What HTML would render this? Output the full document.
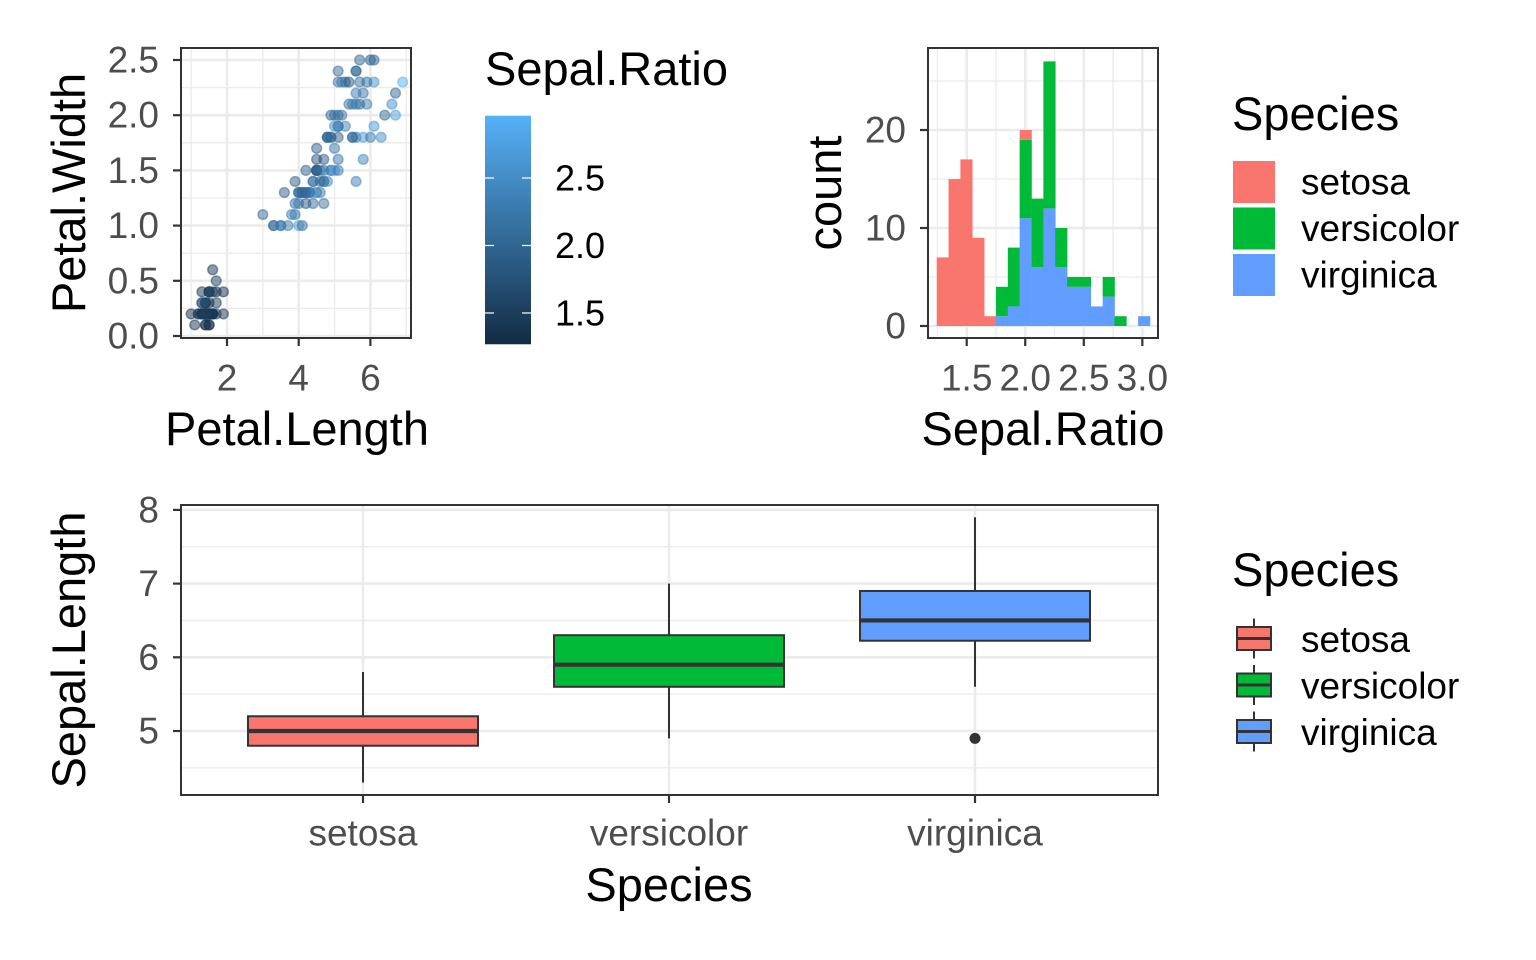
<!DOCTYPE html>
<html><head><meta charset="utf-8"><style>
html,body{margin:0;padding:0;background:#fff;}
svg{display:block;font-family:"Liberation Sans",sans-serif;}
</style></head><body>
<svg id="c" width="1536" height="960" viewBox="0 0 1536 960" xmlns="http://www.w3.org/2000/svg">
<defs><linearGradient id="cbg" x1="0" y1="1" x2="0" y2="0"><stop offset="0" stop-color="#132B43"/><stop offset="1" stop-color="#56B1F7"/></linearGradient></defs>
</svg>
<script>
// ---- data ----
const irisSL=[5.1,4.9,4.7,4.6,5.0,5.4,4.6,5.0,4.4,4.9,5.4,4.8,4.8,4.3,5.8,5.7,5.4,5.1,5.7,5.1,5.4,5.1,4.6,5.1,4.8,5.0,5.0,5.2,5.2,4.7,4.8,5.4,5.2,5.5,4.9,5.0,5.5,4.9,4.4,5.1,5.0,4.5,4.4,5.0,5.1,4.8,5.1,4.6,5.3,5.0,
7.0,6.4,6.9,5.5,6.5,5.7,6.3,4.9,6.6,5.2,5.0,5.9,6.0,6.1,5.6,6.7,5.6,5.8,6.2,5.6,5.9,6.1,6.3,6.1,6.4,6.6,6.8,6.7,6.0,5.7,5.5,5.5,5.8,6.0,5.4,6.0,6.7,6.3,5.6,5.5,5.5,6.1,5.8,5.0,5.6,5.7,5.7,6.2,5.1,5.7,
6.3,5.8,7.1,6.3,6.5,7.6,4.9,7.3,6.7,7.2,6.5,6.4,6.8,5.7,5.8,6.4,6.5,7.7,7.7,6.0,6.9,5.6,7.7,6.3,6.7,7.2,6.2,6.1,6.4,7.2,7.4,7.9,6.4,6.3,6.1,7.7,6.3,6.4,6.0,6.9,6.7,6.9,5.8,6.8,6.7,6.7,6.3,6.5,6.2,5.9];
const irisSW=[3.5,3.0,3.2,3.1,3.6,3.9,3.4,3.4,2.9,3.1,3.7,3.4,3.0,3.0,4.0,4.4,3.9,3.5,3.8,3.8,3.4,3.7,3.6,3.3,3.4,3.0,3.4,3.5,3.4,3.2,3.1,3.4,4.1,4.2,3.1,3.2,3.5,3.6,3.0,3.4,3.5,2.3,3.2,3.5,3.8,3.0,3.8,3.2,3.7,3.3,
3.2,3.2,3.1,2.3,2.8,2.8,3.3,2.4,2.9,2.7,2.0,3.0,2.2,2.9,2.9,3.1,3.0,2.7,2.2,2.5,3.2,2.8,2.5,2.8,2.9,3.0,2.8,3.0,2.9,2.6,2.4,2.4,2.7,2.7,3.0,3.4,3.1,2.3,3.0,2.5,2.6,3.0,2.6,2.3,2.7,3.0,2.9,2.9,2.5,2.8,
3.3,2.7,3.0,2.9,3.0,3.0,2.5,2.9,2.5,3.6,3.2,2.7,3.0,2.5,2.8,3.2,3.0,3.8,2.6,2.2,3.2,2.8,2.8,2.7,3.3,3.2,2.8,3.0,2.8,3.0,2.8,3.8,2.8,2.8,2.6,3.0,3.4,3.1,3.0,3.1,3.1,3.1,2.7,3.2,3.3,3.0,2.5,3.0,3.4,3.0];
const irisPL=[1.4,1.4,1.3,1.5,1.4,1.7,1.4,1.5,1.4,1.5,1.5,1.6,1.4,1.1,1.2,1.5,1.3,1.4,1.7,1.5,1.7,1.5,1.0,1.7,1.9,1.6,1.6,1.5,1.4,1.6,1.6,1.5,1.5,1.4,1.5,1.2,1.3,1.4,1.3,1.5,1.3,1.3,1.3,1.6,1.9,1.4,1.6,1.4,1.5,1.4,
4.7,4.5,4.9,4.0,4.6,4.5,4.7,3.3,4.6,3.9,3.5,4.2,4.0,4.7,3.6,4.4,4.5,4.1,4.5,3.9,4.8,4.0,4.9,4.7,4.3,4.4,4.8,5.0,4.5,3.5,3.8,3.7,3.9,5.1,4.5,4.5,4.7,4.4,4.1,4.0,4.4,4.6,4.0,3.3,4.2,4.2,4.2,4.3,3.0,4.1,
6.0,5.1,5.9,5.6,5.8,6.6,4.5,6.3,5.8,6.1,5.1,5.3,5.5,5.0,5.1,5.3,5.5,6.7,6.9,5.0,5.7,4.9,6.7,4.9,5.7,6.0,4.8,4.9,5.6,5.8,6.1,6.4,5.6,5.1,5.6,6.1,5.6,5.5,4.8,5.4,5.6,5.1,5.1,5.9,5.7,5.2,5.0,5.2,5.4,5.1];
const irisPW=[0.2,0.2,0.2,0.2,0.2,0.4,0.3,0.2,0.2,0.1,0.2,0.2,0.1,0.1,0.2,0.4,0.4,0.3,0.3,0.3,0.2,0.4,0.2,0.5,0.2,0.2,0.4,0.2,0.2,0.2,0.2,0.4,0.1,0.2,0.2,0.2,0.2,0.1,0.2,0.2,0.3,0.3,0.2,0.6,0.4,0.3,0.2,0.2,0.2,0.2,
1.4,1.5,1.5,1.3,1.5,1.3,1.6,1.0,1.3,1.4,1.0,1.5,1.0,1.4,1.3,1.4,1.5,1.0,1.5,1.1,1.8,1.3,1.5,1.2,1.3,1.4,1.4,1.7,1.5,1.0,1.1,1.0,1.2,1.6,1.5,1.6,1.5,1.3,1.3,1.3,1.2,1.4,1.2,1.0,1.3,1.2,1.3,1.3,1.1,1.3,
2.5,1.9,2.1,1.8,2.2,2.1,1.7,1.8,1.8,2.5,2.0,1.9,2.1,2.0,2.4,2.3,1.8,2.2,2.3,1.5,2.3,2.0,2.0,1.8,2.1,1.8,1.8,1.8,2.1,1.6,1.9,2.0,2.2,1.5,1.4,2.3,2.4,1.8,1.8,2.1,2.4,2.3,1.9,2.3,2.5,2.3,1.9,2.0,2.3,1.8];
const species=["setosa","versicolor","virginica"];
const speciesColors=["#F8766D","#00BA38","#619CFF"];
const histBinStart=[1.244,1.345,1.446,1.548,1.649,1.750,1.851,1.952,2.054,2.155,2.256,2.357,2.458,2.560,2.661,2.762,2.863,2.964];
const histSetosa=[7,15,17,9,1,0,0,1,0,0,0,0,0,0,0,0,0,0];
const histVersicolor=[0,0,0,0,0,3,6,8,7,15,4,1,1,0,2,1,0,0];
const histVirginica=[0,0,0,0,0,1,2,11,6,12,6,4,4,2,3,0,0,1];
const histBinWidth=0.1012;
const boxMin=[4.3,4.9,5.6],boxQ1=[4.8,5.6,6.225],boxMed=[5.0,5.9,6.5],boxQ3=[5.2,6.3,6.9],boxMax=[5.8,7.0,7.9];
const boxOutliers=[[],[],[4.9]];
const scatterXTicks=[2,4,6],scatterYTicks=[0,0.5,1,1.5,2,2.5];
const histXTicks=[1.5,2,2.5,3],histYTicks=[0,10,20];
const boxYTicks=[5,6,7,8];
const cbTicks=[1.5,2.0,2.5];

// ---- helpers ----
const svg=document.getElementById('c');const NS="http://www.w3.org/2000/svg";
function el(tag,attrs,parent){const e=document.createElementNS(NS,tag);for(const k in attrs)e.setAttribute(k,attrs[k]);(parent||svg).appendChild(e);return e;}
function txt(s,attrs){const e=el('text',attrs);e.textContent=s;return e;}
const GRID="#EBEBEB",AX="#333333",TK="#4D4D4D";
function fmt(v,d){return v.toFixed(d);}

// ---- scatter ----
const sx=v=>227+(v-2)*35.85, sy=v=>336-v*110.4;
const SP={x0:181,x1:411,y0:48,y1:338};
[1,3,5,7].forEach(v=>{const l=el('line',{x1:sx(v),x2:sx(v),y1:SP.y0,y2:SP.y1,stroke:GRID,'stroke-width':1.3});});
[0.25,0.75,1.25,1.75,2.25].forEach(v=>{const l=el('line',{x1:SP.x0,x2:SP.x1,y1:sy(v),y2:sy(v),stroke:GRID,'stroke-width':1.3});});
scatterXTicks.forEach(v=>{const l=el('line',{x1:sx(v),x2:sx(v),y1:SP.y0,y2:SP.y1,stroke:GRID,'stroke-width':2.6});});
scatterYTicks.forEach(v=>{const l=el('line',{x1:SP.x0,x2:SP.x1,y1:sy(v),y2:sy(v),stroke:GRID,'stroke-width':2.6});});
const ratios=irisSL.map((s,i)=>s/irisSW[i]);
const rmin=Math.min(...ratios),rmax=Math.max(...ratios);
function ratioColor(r){const t=(r-rmin)/(rmax-rmin);const a=[0x13,0x2B,0x43],b=[0x56,0xB1,0xF7];return 'rgb('+a.map((c,i)=>Math.round(c+(b[i]-c)*t)).join(',')+')';}
irisPL.forEach((pl,i)=>{const c=ratioColor(ratios[i]);const p=el('circle',{cx:sx(pl),cy:sy(irisPW[i]),r:4.9,fill:c,'fill-opacity':0.5,stroke:c,'stroke-opacity':0.5,'stroke-width':1.4});
});
{const b=el('rect',{x:SP.x0,y:SP.y0,width:SP.x1-SP.x0,height:SP.y1-SP.y0,fill:'none',stroke:AX,'stroke-width':2});}
scatterXTicks.forEach(v=>{el('line',{x1:sx(v),x2:sx(v),y1:SP.y1,y2:SP.y1+8,stroke:AX,'stroke-width':2.2});const t=txt(String(v),{x:sx(v),y:378,'text-anchor':'middle','dominant-baseline':'central','font-size':37,fill:TK});});
scatterYTicks.forEach(v=>{el('line',{x1:SP.x0-8,x2:SP.x0,y1:sy(v),y2:sy(v),stroke:AX,'stroke-width':2.2});const t=txt(fmt(v,1),{x:159,y:sy(v),'text-anchor':'end','dominant-baseline':'central','font-size':37,fill:TK});});
{const t=txt('Petal.Length',{x:297,y:445,'text-anchor':'middle','font-size':47,fill:'#000'});}
{const t=txt('Petal.Width',{x:0,y:0,'text-anchor':'middle','font-size':47,fill:'#000',transform:'translate(85,193) rotate(-90)'});}

// ---- colorbar ----
const cby=v=>178-(v-2.5)*135;
{const t=txt('Sepal.Ratio',{x:485,y:85,'font-size':47,fill:'#000'});}
{const r=el('rect',{x:485,y:cby(rmax),width:46,height:cby(rmin)-cby(rmax),fill:'url(#cbg)'});}
cbTicks.forEach(v=>{el('line',{x1:485,x2:494,y1:cby(v),y2:cby(v),stroke:'#fff','stroke-width':1.2});el('line',{x1:522,x2:531,y1:cby(v),y2:cby(v),stroke:'#fff','stroke-width':1.2});
const t=txt(fmt(v,1),{x:555,y:cby(v),'dominant-baseline':'central','font-size':36,fill:'#000'});});

// ---- histogram ----
const hx=v=>966.7+(v-1.5)*117.1, hy=c=>326-c*9.8;
const HP={x0:928,x1:1158,y0:48,y1:338};
[1.25,1.75,2.25,2.75].forEach(v=>{const l=el('line',{x1:hx(v),x2:hx(v),y1:HP.y0,y2:HP.y1,stroke:GRID,'stroke-width':1.3});});
[5,15,25].forEach(v=>{const l=el('line',{x1:HP.x0,x2:HP.x1,y1:hy(v),y2:hy(v),stroke:GRID,'stroke-width':1.3});});
histXTicks.forEach(v=>{const l=el('line',{x1:hx(v),x2:hx(v),y1:HP.y0,y2:HP.y1,stroke:GRID,'stroke-width':2.6});});
histYTicks.forEach(v=>{const l=el('line',{x1:HP.x0,x2:HP.x1,y1:hy(v),y2:hy(v),stroke:GRID,'stroke-width':2.6});});
histBinStart.forEach((b,i)=>{const x=hx(b),w=hx(b+histBinWidth)-x;
 const stack=[[histVirginica[i],2],[histVersicolor[i],1],[histSetosa[i],0]];let base=0;
 stack.forEach(([c,s])=>{if(c>0){const r=el('rect',{x:x,y:hy(base+c),width:w+0.3,height:hy(base)-hy(base+c),fill:speciesColors[s]});base+=c;}});});
{const b=el('rect',{x:HP.x0,y:HP.y0,width:HP.x1-HP.x0,height:HP.y1-HP.y0,fill:'none',stroke:AX,'stroke-width':2});}
histXTicks.forEach(v=>{el('line',{x1:hx(v),x2:hx(v),y1:HP.y1,y2:HP.y1+8,stroke:AX,'stroke-width':2.2});const t=txt(fmt(v,1),{x:hx(v),y:378,'text-anchor':'middle','dominant-baseline':'central','font-size':37,fill:TK});});
histYTicks.forEach(v=>{el('line',{x1:HP.x0-8,x2:HP.x0,y1:hy(v),y2:hy(v),stroke:AX,'stroke-width':2.2});const t=txt(String(v),{x:906,y:hy(v),'text-anchor':'end','dominant-baseline':'central','font-size':37,fill:TK});});
{const t=txt('Sepal.Ratio',{x:1043,y:445,'text-anchor':'middle','font-size':47,fill:'#000'});}
{const t=txt('count',{x:0,y:0,'text-anchor':'middle','font-size':47,fill:'#000',transform:'translate(841,193) rotate(-90)'});}
// hist legend
{const t=txt('Species',{x:1232,y:130,'font-size':47,fill:'#000'});}
species.forEach((s,i)=>{const y=161+i*46.5;const r=el('rect',{x:1233,y:y,width:42,height:42,fill:speciesColors[i]});
const t=txt(s,{x:1301,y:y+21,'dominant-baseline':'central','font-size':37,fill:'#000'});});

// ---- boxplot ----
const by=v=>731-(v-5)*73.7, bx=i=>363+i*306;
const BP={x0:181,x1:1158,y0:505,y1:795};
[4.5,5.5,6.5,7.5].forEach(v=>{const l=el('line',{x1:BP.x0,x2:BP.x1,y1:by(v),y2:by(v),stroke:GRID,'stroke-width':1.3});});
boxYTicks.forEach(v=>{const l=el('line',{x1:BP.x0,x2:BP.x1,y1:by(v),y2:by(v),stroke:GRID,'stroke-width':2.6});});
species.forEach((s,i)=>{const l=el('line',{x1:bx(i),x2:bx(i),y1:BP.y0,y2:BP.y1,stroke:GRID,'stroke-width':2.6});});
species.forEach((s,i)=>{const cx=bx(i),hw=115;
 const w1=el('line',{x1:cx,x2:cx,y1:by(boxQ3[i]),y2:by(boxMax[i]),stroke:AX,'stroke-width':2});
 const w2=el('line',{x1:cx,x2:cx,y1:by(boxQ1[i]),y2:by(boxMin[i]),stroke:AX,'stroke-width':2});
 const r=el('rect',{x:cx-hw,y:by(boxQ3[i]),width:hw*2,height:by(boxQ1[i])-by(boxQ3[i]),fill:speciesColors[i],stroke:AX,'stroke-width':2});
 const m=el('line',{x1:cx-hw,x2:cx+hw,y1:by(boxMed[i]),y2:by(boxMed[i]),stroke:AX,'stroke-width':4.2});
 boxOutliers[i].forEach(o=>{const c=el('circle',{cx:cx,cy:by(o),r:5.5,fill:AX});});});
{const b=el('rect',{x:BP.x0,y:BP.y0,width:BP.x1-BP.x0,height:BP.y1-BP.y0,fill:'none',stroke:AX,'stroke-width':2});}
boxYTicks.forEach(v=>{el('line',{x1:BP.x0-8,x2:BP.x0,y1:by(v),y2:by(v),stroke:AX,'stroke-width':2.2});const t=txt(String(v),{x:159,y:by(v),'text-anchor':'end','dominant-baseline':'central','font-size':37,fill:TK});});
species.forEach((s,i)=>{el('line',{x1:bx(i),x2:bx(i),y1:BP.y1,y2:BP.y1+8,stroke:AX,'stroke-width':2.2});const t=txt(s,{x:bx(i),y:833,'text-anchor':'middle','dominant-baseline':'central','font-size':37,fill:TK});});
{const t=txt('Species',{x:669,y:901,'text-anchor':'middle','font-size':47,fill:'#000'});}
{const t=txt('Sepal.Length',{x:0,y:0,'text-anchor':'middle','font-size':47,fill:'#000',transform:'translate(85,650) rotate(-90)'});}
// box legend
{const t=txt('Species',{x:1232,y:586,'font-size':47,fill:'#000'});}
species.forEach((s,i)=>{const cy=638.5+i*46.5;
 el('line',{x1:1254,x2:1254,y1:cy-20,y2:cy+20,stroke:AX,'stroke-width':2});
 const r=el('rect',{x:1237,y:cy-11.5,width:34,height:23,fill:speciesColors[i],stroke:AX,'stroke-width':2});
 el('line',{x1:1237,x2:1271,y1:cy,y2:cy,stroke:AX,'stroke-width':3});
 const t=txt(s,{x:1301,y:cy+1,'dominant-baseline':'central','font-size':37,fill:'#000'});});
</script>
</body></html>
